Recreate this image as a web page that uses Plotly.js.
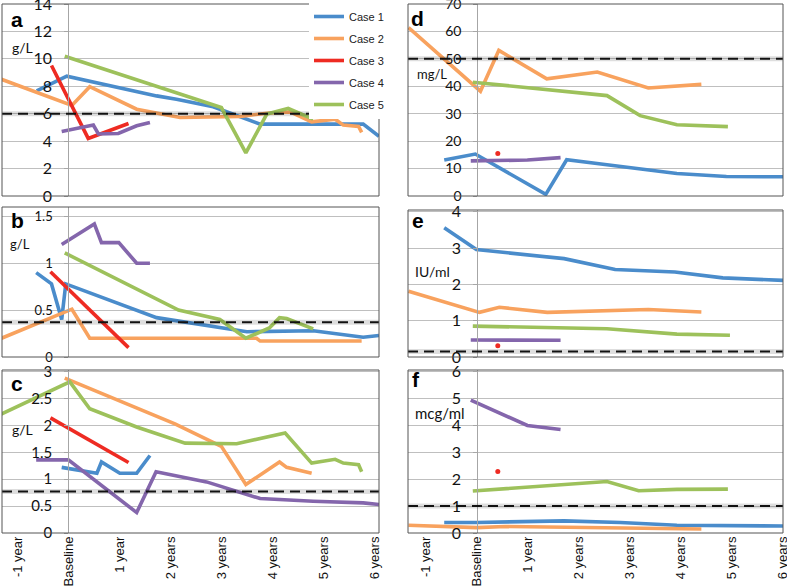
<!DOCTYPE html>
<html>
<head>
<meta charset="utf-8">
<script src="https://cdn.plot.ly/plotly-3.0.1.min.js"></script>
<style>
  html, body { margin: 0; padding: 0; background: #fff; }
  #chart { width: 787px; height: 587px; }
</style>
</head>
<body>
<div id="chart"></div>
<script>
// ─────────────────────────────
// DATA
// ─────────────────────────────
const cases = ['Case 1', 'Case 2', 'Case 3', 'Case 4', 'Case 5'];

const xTickVals = [-1, 0, 1, 2, 3, 4, 5, 6];
const xTickText = ['-1 year', 'Baseline', '1 year', '2 years', '3 years', '4 years', '5 years', '6 years'];

// one inner array per case (Case 1 .. Case 5), x in years from baseline
const aX = [
  [-0.62, -0.03, 1.73, 2.12, 2.84, 3.76, 5.78, 6.09],
  [-1.34, 0.07, 0.42, 1.34, 2.19, 3.37, 3.89, 4.35, 4.77, 5.23, 5.39, 5.69, 5.75],
  [-0.33, 0.39, 1.18],
  [-0.13, 0.49, 0.59, 0.98, 1.34, 1.6],
  [-0.07, 3.0, 3.48, 3.89, 4.31, 4.8]
];
const aY = [
  [7.66, 8.74, 7.3, 7.05, 6.5, 5.24, 5.24, 4.35],
  [8.55, 6.6, 7.97, 6.33, 5.72, 5.8, 6.04, 6.13, 5.41, 5.6, 5.17, 5.07, 4.64],
  [9.52, 4.2, 5.29],
  [4.71, 5.17, 4.52, 4.56, 5.12, 5.36],
  [10.19, 6.45, 3.14, 5.97, 6.38, 5.6]
];

const bX = [
  [-0.63, -0.33, -0.13, -0.05, 1.73, 3.5, 4.8, 5.78, 6.09],
  [-1.31, 0.07, 0.42, 3.69, 3.76, 5.75],
  [-0.35, 1.18],
  [-0.13, 0.51, 0.65, 0.99, 1.34, 1.6],
  [-0.07, 2.16, 2.97, 3.48, 3.94, 4.14, 4.28, 4.8]
];
const bY = [
  [0.90, 0.78, 0.40, 0.78, 0.42, 0.27, 0.28, 0.21, 0.23],
  [0.20, 0.51, 0.20, 0.20, 0.17, 0.17],
  [0.91, 0.10],
  [1.2, 1.42, 1.22, 1.22, 1.0, 1.0],
  [1.11, 0.50, 0.40, 0.20, 0.31, 0.42, 0.41, 0.30]
];

const cX = [
  [-0.13, 0.56, 0.65, 1.01, 1.34, 1.6],
  [-0.07, 2.09, 3.0, 3.48, 4.14, 4.28, 4.77],
  [-0.35, 1.18],
  [-0.63, 0, 1.34, 1.72, 2.71, 3.37, 3.76, 4.8, 5.78, 6.09],
  [-1.34, 0.03, 0.42, 1.34, 2.29, 3.3, 4.25, 4.77, 5.23, 5.39, 5.69, 5.75]
];
const cY = [
  [1.22, 1.11, 1.32, 1.11, 1.11, 1.44],
  [2.88, 2.03, 1.61, 0.90, 1.32, 1.22, 1.11],
  [2.14, 1.31],
  [1.36, 1.36, 0.38, 1.14, 0.95, 0.75, 0.64, 0.59, 0.56, 0.53],
  [2.2, 2.81, 2.31, 1.97, 1.67, 1.66, 1.86, 1.30, 1.37, 1.30, 1.27, 1.14]
];

const dX = [
  [-0.64, -0.03, 1.35, 1.76, 2.55, 3.92, 4.89, 6.0],
  [-1.34, 0.07, 0.43, 1.37, 2.36, 3.36, 4.4],
  [0.41],
  [-0.12, 0.99, 1.64],
  [-0.08, 2.55, 3.2, 3.92, 4.92]
];
const dY = [
  [13.1, 15.3, 0.6, 13.2, 11.4, 8.2, 7.1, 7.0],
  [61.4, 38.2, 53.1, 42.7, 45.2, 39.4, 40.7],
  [15.5],
  [12.8, 13.1, 14.0],
  [41.5, 36.6, 29.3, 26.0, 25.3]
];

const eX = [
  [-0.64, -0.01, 1.71, 2.71, 3.88, 4.82, 6.0],
  [-1.34, 0.05, 0.44, 1.38, 3.36, 4.4],
  [0.41],
  [-0.12, 1.64],
  [-0.08, 2.55, 3.92, 4.96]
];
const eY = [
  [3.56, 2.96, 2.71, 2.41, 2.34, 2.18, 2.11],
  [1.81, 1.23, 1.37, 1.23, 1.31, 1.24],
  [0.31],
  [0.47, 0.46],
  [0.85, 0.78, 0.63, 0.60]
];

const fX = [
  [-0.64, 0, 1.71, 2.81, 3.92, 6.0],
  [-1.34, 0, 0.55, 2.36, 3.36, 4.4],
  [0.41],
  [-0.12, 0.99, 1.64],
  [-0.08, 2.55, 3.17, 3.92, 4.92]
];
const fY = [
  [0.39, 0.39, 0.45, 0.39, 0.29, 0.26],
  [0.29, 0.2, 0.24, 0.2, 0.15, 0.15],
  [2.28],
  [4.93, 3.99, 3.84],
  [1.56, 1.91, 1.57, 1.62, 1.63]
];

const panelLetters = ['a', 'b', 'c', 'd', 'e', 'f'];
const panelUnits = ['g/L', 'g/L', 'g/L', 'mg/L', 'IU/ml', 'mcg/ml'];
const refLevels = [6, 0.37, 0.77, 50, 0.15, 1.0];


// ─────────────────────────────
// STYLE / GEOMETRY
// ─────────────────────────────
const W = 787, H = 587;
const caseColors = ['#4A8CCB', '#F8A25E', '#EE2B22', '#8466AC', '#9DC15B'];

const COLS = [
  { left: 2, right: 379, axisPx: 68.3, range: [-1.30, 6.09] },
  { left: 408, right: 783, axisPx: 477.3, range: [-1.35, 6.0] }
];

const PANELS = [
  { xs: aX, ys: aY, col: 0, top: 4,   bottom: 196, range: [0, 14],   dtick: 2,   tickSize: 16, unit: [22, 48, 14],   letter: [17, 19] },
  { xs: bX, ys: bY, col: 0, top: 207, bottom: 357, range: [0, 1.6],  dtick: 0.5, tickSize: 13, unit: [20, 244, 13],  letter: [17, 221] },
  { xs: cX, ys: cY, col: 0, top: 370, bottom: 533, range: [0, 3.03], dtick: 0.5, tickSize: 15, unit: [22, 429, 14],  letter: [17, 383] },
  { xs: dX, ys: dY, col: 1, top: 4,   bottom: 196, range: [0, 70],   dtick: 10,  tickSize: 14, unit: [432, 74, 13],  letter: [418, 18] },
  { xs: eX, ys: eY, col: 1, top: 210, bottom: 357, range: [0, 4.05], dtick: 1,   tickSize: 16, unit: [432, 271, 14], letter: [418, 221] },
  { xs: fX, ys: fY, col: 1, top: 370, bottom: 533, range: [0, 6.05], dtick: 1,   tickSize: 16, unit: [440, 413, 15], letter: [416, 380] }
];


// ─────────────────────────────
// BUILD
// ─────────────────────────────
const traces = [];
const shapes = [];
const annotations = [];
const layout = {
  width: W,
  height: H,
  margin: { l: 0, r: 0, t: 0, b: 0 },
  paper_bgcolor: '#fff',
  plot_bgcolor: '#fff',
  showlegend: true,
  legend: {
    x: 309 / W, y: 1 - 2 / H, xanchor: 'left', yanchor: 'top',
    bgcolor: '#fff', borderwidth: 0,
    font: { family: 'Liberation Sans Narrow, Liberation Sans, sans-serif', size: 11, color: '#222' },
    tracegroupgap: 3,
    itemwidth: 30
  },
  shapes,
  annotations
};

PANELS.forEach((p, i) => {
  const n = i === 0 ? '' : String(i + 1);
  const xName = 'x' + n, yName = 'y' + n;
  const col = COLS[p.col];
  const bottomRow = i === 2 || i === 5;

  // ───────── traces ─────────
  cases.forEach((name, k) => {
    const single = p.xs[k].length === 1;
    traces.push({
      x: p.xs[k],
      y: p.ys[k],
      name,
      legendgroup: name,
      showlegend: i === 0,
      type: 'scatter',
      mode: single ? 'markers' : 'lines',
      line: { color: caseColors[k], width: 3.6 },
      marker: { color: caseColors[k], size: 5 },
      xaxis: xName,
      yaxis: yName,
      hoverinfo: 'skip'
    });
  });

  // ───────── axes ─────────
  layout['xaxis' + n] = {
    domain: [col.left / W, col.right / W],
    range: col.range,
    anchor: yName,
    showgrid: false,
    zeroline: false,
    showline: false,
    tickvals: xTickVals,
    ticktext: xTickText,
    showticklabels: bottomRow,
    tickangle: -90,
    ticks: '',
    ticklabeloverflow: 'allow',
    tickfont: { family: 'Liberation Sans, Arial, sans-serif', size: 13, color: '#111' }
  };
  layout['yaxis' + n] = {
    domain: [1 - p.bottom / H, 1 - p.top / H],
    range: p.range,
    dtick: p.dtick,
    tick0: 0,
    anchor: 'free',
    position: col.axisPx / W,
    showline: true,
    linecolor: '#A6A6A6',
    linewidth: 1,
    showgrid: true,
    gridcolor: '#BFBFBF',
    gridwidth: 1,
    zeroline: false,
    ticks: 'outside',
    ticklen: 4,
    tickcolor: '#A6A6A6',
    ticklabelstandoff: 9,
    ticklabeloverflow: 'allow',
    tickfont: { family: 'Lato, Open Sans, sans-serif', size: p.tickSize, color: '#111' }
  };

  // ───────── reference line + frame ─────────
  shapes.push({
    type: 'line', xref: xName + ' domain', yref: yName,
    x0: 0, x1: 1, y0: refLevels[i], y1: refLevels[i],
    line: { color: 'rgba(0,0,0,0.13)', width: 5 }
  });
  shapes.push({
    type: 'line', xref: xName + ' domain', yref: yName,
    x0: 0, x1: 1, y0: refLevels[i], y1: refLevels[i],
    line: { color: '#111', width: 2, dash: '10px,6px' }
  });
  shapes.push({
    type: 'rect', xref: xName + ' domain', yref: yName + ' domain',
    x0: 0, x1: 1, y0: 0, y1: 1,
    line: { color: '#555', width: 1 }
  });

  // ───────── labels ─────────
  annotations.push({
    xref: 'paper', yref: 'paper',
    x: p.letter[0] / W, y: 1 - p.letter[1] / H,
    xanchor: 'center', yanchor: 'middle', showarrow: false,
    text: '<b>' + panelLetters[i] + '</b>',
    font: { family: 'Liberation Sans, Arial, sans-serif', size: 21, color: '#000' }
  });
  annotations.push({
    xref: 'paper', yref: 'paper',
    x: p.unit[0] / W, y: 1 - p.unit[1] / H,
    xanchor: 'center', yanchor: 'middle', showarrow: false,
    text: panelUnits[i],
    font: { family: 'Lato, Open Sans, sans-serif', size: p.unit[2], color: '#111' }
  });
});

Plotly.newPlot('chart', traces, layout, { displayModeBar: false, staticPlot: true });
</script>
</body>
</html>
